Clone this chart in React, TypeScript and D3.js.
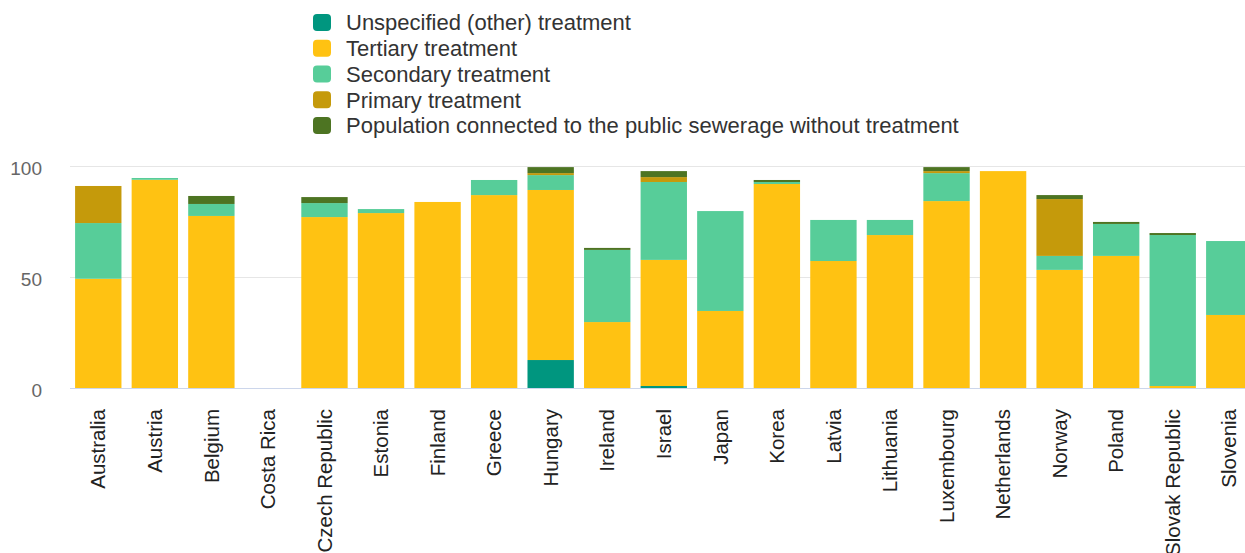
import React from "react";
import * as d3 from "d3";

const categories = ["Australia","Austria","Belgium","Costa Rica","Czech Republic","Estonia","Finland","Greece","Hungary","Ireland","Israel","Japan","Korea","Latvia","Lithuania","Luxembourg","Netherlands","Norway","Poland","Slovak Republic","Slovenia"];
const unspecified = [0,0,0,0,0,0,0,0,12.6,0,0.9,0,0,0,0,0,0,0,0,0,0];
const tertiary = [49.2,93.8,77.5,0,77.0,78.8,83.8,86.9,76.6,29.7,56.8,34.7,91.9,57.2,68.9,84.2,97.7,53.2,59.5,0.9,32.9];
const secondary = [25.1,0.8,5.4,0,6.3,1.8,0,6.8,6.7,32.5,35.1,45.0,0.9,18.5,6.8,12.6,0,6.3,14.4,68.0,33.3];
const primary = [16.7,0,0,0,0,0,0,0,0.9,0,2.2,0,0,0,0,0.9,0,25.6,0,0,0];
const without = [0,0,3.6,0,2.7,0,0,0,2.7,0.9,2.7,0,0.9,0,0,1.8,0,1.8,0.9,0.9,0];
const yTicks = [0, 50, 100];

const seriesKeys = ["unspecified","tertiary","secondary","primary","without"];
const seriesNames = ["Unspecified (other) treatment","Tertiary treatment","Secondary treatment","Primary treatment","Population connected to the public sewerage without treatment"];
const seriesColors = ["#00967f","#ffc212","#57cd99","#c59a0b","#4d7422"];
const seriesData = [unspecified, tertiary, secondary, primary, without];

export default function App() {
  const W = 1245, H = 553;
  const left = 70, step = 56.55;
  const rows = categories.map((c, i) => {
    const r: any = { category: c };
    seriesKeys.forEach((k, j) => { r[k] = seriesData[j][i]; });
    return r;
  });
  const stacked = d3.stack().keys(seriesKeys)(rows);
  const x = d3.scaleBand().domain(categories).range([left, left + step * categories.length]).paddingInner(0.18).paddingOuter(0.09);
  const y = d3.scaleLinear().domain([0, 100]).range([388, 166]);
  const font = "'Liberation Sans', Arial, Helvetica, sans-serif";

  return (
    <svg width={W} height={H} style={{ position: "absolute", left: 0, top: 0, overflow: "hidden" }} fontFamily={font}>
      <rect width={W} height={H} fill="#fff" />
      {yTicks.filter(t => t !== 0).map(t => (
        <line key={t} x1={left} x2={W} y1={Math.round(y(t)) + 0.5} y2={Math.round(y(t)) + 0.5} stroke="#e6e6e6" strokeWidth={1} />
      ))}
      {yTicks.map(t => (
        <text key={t} x={42} y={y(t)} dy="0.45em" textAnchor="end" fontSize={19} fill="#666">{t}</text>
      ))}
      {stacked.map((s, j) => (
        <g key={s.key} fill={seriesColors[j]}>
          {s.map((d, i) => {
            const h = y(d[0]) - y(d[1]);
            if (h <= 0) return null;
            return <rect key={i} x={x(categories[i])} y={y(d[1])} width={x.bandwidth()} height={h} />;
          })}
        </g>
      ))}
      <line x1={left} x2={W} y1={388.5} y2={388.5} stroke="#ccd6eb" strokeWidth={1} />
      {categories.map(c => {
        const cx = (x(c) as number) + x.bandwidth() / 2;
        return (
          <text key={c} transform={`translate(${cx},409) rotate(-90)`} dy="0.35em" textAnchor="end" fontSize={20.5} fill="#222">{c}</text>
        );
      })}
      {seriesNames.map((n, j) => {
        const cy = 22.5 + j * 25.75;
        return (
          <g key={n}>
            <rect x={313} y={cy - 8.5} width={18} height={17} rx={4} fill={seriesColors[j]} />
            <text x={346} y={cy} dy="0.36em" fontSize={22} fill="#333">{n}</text>
          </g>
        );
      })}
    </svg>
  );
}
